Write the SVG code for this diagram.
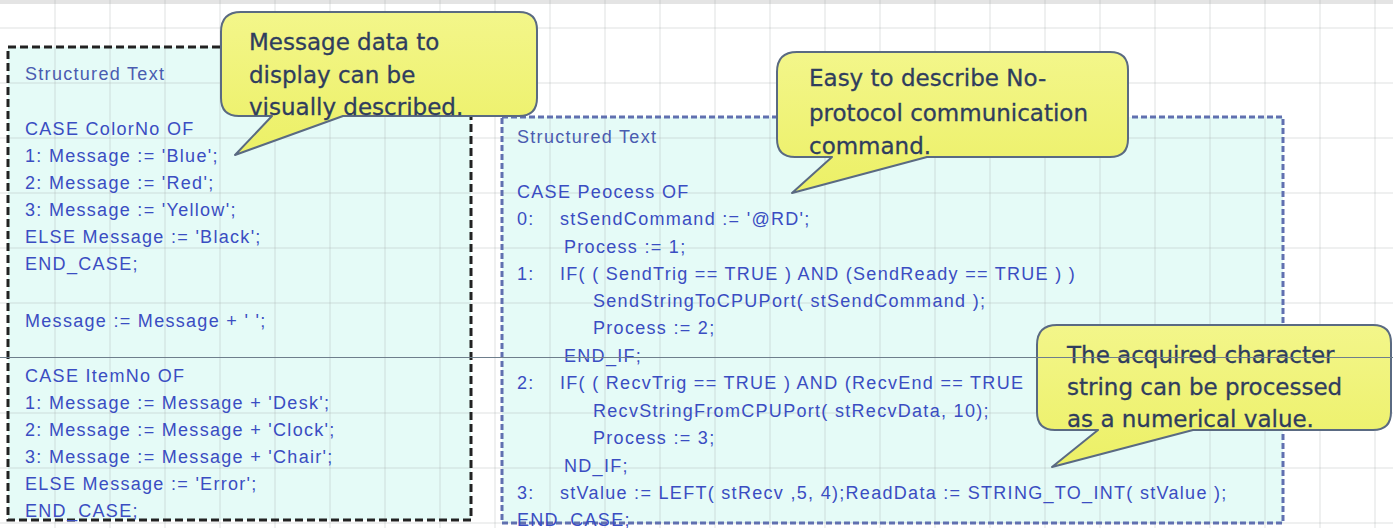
<svg xmlns="http://www.w3.org/2000/svg" width="1393" height="528" viewBox="0 0 1393 528">
<defs>
<style>
.code{font-family:"Liberation Sans",Arial,sans-serif;font-size:18px;letter-spacing:1.3px;fill:#3a4dc2;}
.title{fill:#4a5cb0;}
.note{font-family:"DejaVu Sans",Verdana,sans-serif;font-size:23px;fill:#2f3d5e;stroke:#2f3d5e;stroke-width:0.3;}
.bubble{fill:url(#yel);stroke:#5a6a82;stroke-width:2;stroke-linejoin:round;}
.grid line{stroke:#a0a8a8;stroke-opacity:0.35;stroke-width:1;}
</style>
<linearGradient id="yel" x1="0" y1="0" x2="0" y2="1">
<stop offset="0" stop-color="#f3f68a"/>
<stop offset="1" stop-color="#ecf066"/>
</linearGradient>
</defs>
<rect x="0" y="0" width="1393" height="528" fill="#ffffff"/>
<rect x="0" y="0" width="1393" height="4" fill="#e4e4e4"/>

<g id="panel-left-bg"><rect x="8" y="47" width="463" height="473" fill="#e5fbf7"/></g>
<g id="panel-right-bg"><rect x="502" y="117" width="781" height="406" fill="#e5fbf7"/></g>

<g class="grid">
<line x1="55" y1="0" x2="55" y2="528"/><line x1="110" y1="0" x2="110" y2="528"/><line x1="165" y1="0" x2="165" y2="528"/><line x1="220" y1="0" x2="220" y2="528"/><line x1="275" y1="0" x2="275" y2="528"/><line x1="330" y1="0" x2="330" y2="528"/><line x1="385" y1="0" x2="385" y2="528"/><line x1="440" y1="0" x2="440" y2="528"/><line x1="495" y1="0" x2="495" y2="528"/><line x1="550" y1="0" x2="550" y2="528"/><line x1="605" y1="0" x2="605" y2="528"/><line x1="660" y1="0" x2="660" y2="528"/><line x1="715" y1="0" x2="715" y2="528"/><line x1="770" y1="0" x2="770" y2="528"/><line x1="825" y1="0" x2="825" y2="528"/><line x1="880" y1="0" x2="880" y2="528"/><line x1="935" y1="0" x2="935" y2="528"/><line x1="990" y1="0" x2="990" y2="528"/><line x1="1045" y1="0" x2="1045" y2="528"/><line x1="1100" y1="0" x2="1100" y2="528"/><line x1="1155" y1="0" x2="1155" y2="528"/><line x1="1210" y1="0" x2="1210" y2="528"/><line x1="1265" y1="0" x2="1265" y2="528"/><line x1="1320" y1="0" x2="1320" y2="528"/><line x1="1375" y1="0" x2="1375" y2="528"/>
<line x1="0" y1="28" x2="1393" y2="28"/><line x1="0" y1="83" x2="1393" y2="83"/><line x1="0" y1="138" x2="1393" y2="138"/><line x1="0" y1="193" x2="1393" y2="193"/><line x1="0" y1="248" x2="1393" y2="248"/><line x1="0" y1="303" x2="1393" y2="303"/><line x1="0" y1="413" x2="1393" y2="413"/><line x1="0" y1="468" x2="1393" y2="468"/><line x1="0" y1="523" x2="1393" y2="523"/>
</g>

<g id="panel-left">
<rect x="8" y="47" width="463" height="473" fill="none" stroke="#222222" stroke-width="3" stroke-dasharray="8 4"/>
<text class="code title" x="25" y="80">Structured Text</text>
<text class="code" x="25" y="135">CASE ColorNo OF</text>
<text class="code" x="25" y="162">1: Message := 'Blue';</text>
<text class="code" x="25" y="189">2: Message := 'Red';</text>
<text class="code" x="25" y="216">3: Message := 'Yellow';</text>
<text class="code" x="25" y="243">ELSE Message := 'Black';</text>
<text class="code" x="25" y="270">END_CASE;</text>
<text class="code" x="25" y="327">Message := Message + ' ';</text>
<text class="code" x="25" y="382">CASE ItemNo OF</text>
<text class="code" x="25" y="409">1: Message := Message + 'Desk';</text>
<text class="code" x="25" y="436">2: Message := Message + 'Clock';</text>
<text class="code" x="25" y="463">3: Message := Message + 'Chair';</text>
<text class="code" x="25" y="490">ELSE Message := 'Error';</text>
<text class="code" x="25" y="517">END_CASE;</text>
</g>

<g id="panel-right">
<rect x="502" y="117" width="781" height="406" fill="none" stroke="#6070b0" stroke-width="3" stroke-dasharray="6 3"/>
<text class="code title" x="517" y="143">Structured Text</text>
<text class="code" x="517" y="198">CASE Peocess OF</text>
<text class="code" x="517" y="225">0:</text>
<text class="code" x="560" y="225">stSendCommand := '@RD';</text>
<text class="code" x="564" y="253">Process := 1;</text>
<text class="code" x="517" y="280">1:</text>
<text class="code" x="560" y="280">IF( ( SendTrig == TRUE ) AND (SendReady == TRUE ) )</text>
<text class="code" x="593" y="307">SendStringToCPUPort( stSendCommand );</text>
<text class="code" x="593" y="334">Process := 2;</text>
<text class="code" x="564" y="362">END_IF;</text>
<text class="code" x="517" y="389">2:</text>
<text class="code" x="560" y="389">IF( ( RecvTrig == TRUE ) AND (RecvEnd == TRUE</text>
<text class="code" x="593" y="417">RecvStringFromCPUPort( stRecvData, 10);</text>
<text class="code" x="593" y="444">Process := 3;</text>
<text class="code" x="564" y="472">ND_IF;</text>
<text class="code" x="517" y="499">3:</text>
<text class="code" x="560" y="499">stValue := LEFT( stRecv ,5, 4);ReadData := STRING_TO_INT( stValue );</text>
<text class="code" x="517" y="526">END_CASE;</text>
</g>

<g id="connectors"></g>

<g id="callout-1">
<path class="bubble" d="M241,12 H519 Q537,12 537,30 V98 Q537,116 519,116 H343 L235,155 L272,116 H239 Q221,116 221,98 V32 Q221,12 241,12 Z"/>
<text class="note" x="249" y="50">Message data to</text>
<text class="note" x="249" y="83">display can be</text>
<text class="note" x="249" y="115">visually described.</text>
</g>

<g id="callout-2">
<path class="bubble" d="M797,52 H1110 Q1128,52 1128,70 V139 Q1128,157 1110,157 H927 L792,193 L832,157 H795 Q777,157 777,139 V72 Q777,52 797,52 Z"/>
<text class="note" x="809" y="86">Easy to describe No-</text>
<text class="note" x="809" y="121">protocol communication</text>
<text class="note" x="809" y="154">command.</text>
</g>

<g id="callout-3">
<path class="bubble" d="M1057,325 H1373 Q1391,325 1391,343 V412 Q1391,430 1373,430 H1193 L1052,467 L1098,430 H1055 Q1037,430 1037,412 V345 Q1037,325 1057,325 Z"/>
<text class="note" x="1067" y="363">The acquired character</text>
<text class="note" x="1067" y="395">string can be processed</text>
<text class="note" x="1067" y="427">as a numerical value.</text>
</g>

<line x1="0" y1="357.5" x2="1393" y2="357.5" stroke="#6e7e8c" stroke-width="1"/>
</svg>
